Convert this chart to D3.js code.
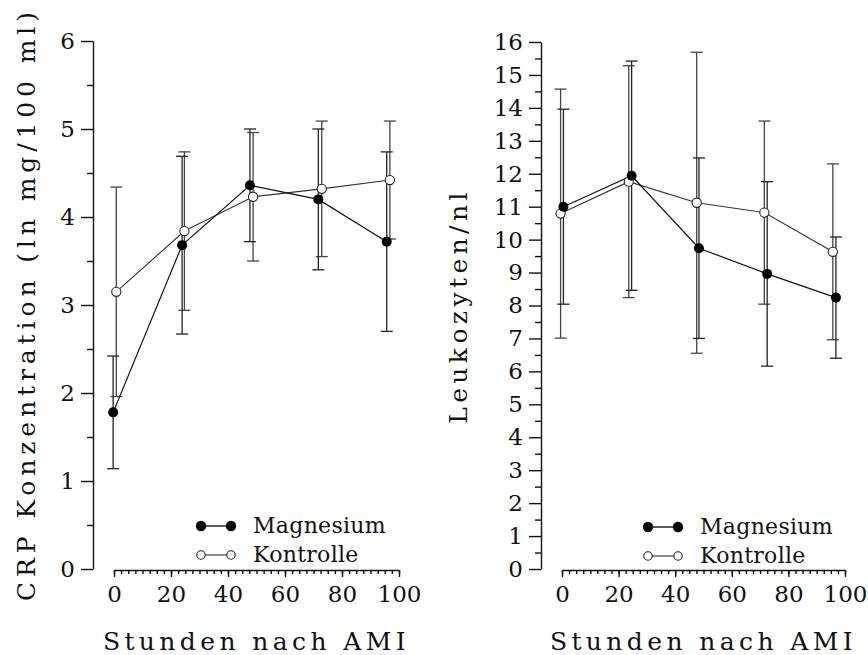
<!DOCTYPE html>
<html><head><meta charset="utf-8">
<script src="https://cdn.jsdelivr.net/npm/d3@7"></script>
<style>
html,body{margin:0;padding:0;background:#fff;}
svg text{font-family:"DejaVu Serif",serif;fill:#111;}
</style></head>
<body>
<svg id="chart" width="868" height="655"></svg>
<script>
// ---- data ----
const seriesNames = ["Magnesium", "Kontrolle"];
const xTicks = [0, 20, 40, 60, 80, 100];

// CRP panel (ln mg/100 ml)
const crpYTicks = [0, 1, 2, 3, 4, 5, 6];
const crpMgHours = [-0.3, 23.9, 47.7, 71.7, 95.7];
const crpMgMean  = [1.78, 3.68, 4.36, 4.20, 3.72];
const crpMgErr   = [0.64, 1.01, 0.64, 0.80, 1.02];
const crpKoHours = [0.8, 24.7, 48.8, 72.9, 96.8];
const crpKoMean  = [3.15, 3.84, 4.23, 4.32, 4.42];
const crpKoErr   = [1.19, 0.90, 0.73, 0.77, 0.67];

// Leukozyten panel (/nl)
const leuYTicks = [0,1,2,3,4,5,6,7,8,9,10,11,12,13,14,15,16];
const leuMgHours = [0.5, 24.6, 48.4, 72.5, 96.8];
const leuMgMean  = [11.00, 11.94, 9.74, 8.96, 8.24];
const leuMgErr   = [2.96, 3.48, 2.74, 2.80, 1.84];
const leuKoHours = [-0.5, 23.6, 47.6, 71.5, 95.7];
const leuKoMean  = [10.79, 11.76, 11.12, 10.82, 9.63];
const leuKoErr   = [3.78, 3.52, 4.57, 2.78, 2.67];

const svg = d3.select("#chart");

function zip(h, m, e){ return h.map((v,i)=>({h:v, m:m[i], e:e[i]})); }

function panel(cfg){
  const g = svg.append("g");
  const x = d3.scaleLinear().domain([0,100]).range([cfg.x0, cfg.x1]);
  const y = d3.scaleLinear().domain([0, cfg.yMax]).range([cfg.yBottom, cfg.yTop]);

  // y axis major
  const ya = g.append("g").attr("transform",`translate(${cfg.yAxisX},0)`)
    .call(d3.axisLeft(y).tickValues(cfg.yTicks).tickSize(12).tickSizeOuter(0).tickPadding(6).tickFormat(d3.format("d")));
  ya.selectAll("text").style("font-size","23px");
  // y minor
  const halves = d3.range(0.5, cfg.yMax, 1);
  g.append("g").attr("transform",`translate(${cfg.yAxisX},0)`)
    .call(d3.axisLeft(y).tickValues(halves).tickSize(6).tickSizeOuter(0).tickFormat(""))
    .select(".domain").remove();

  // x axis
  const xa = g.append("g").attr("transform",`translate(0,${cfg.xAxisY})`)
    .call(d3.axisBottom(x).tickValues(xTicks).tickSize(7).tickSizeOuter(0).tickPadding(9).tickFormat(d3.format("d")));
  xa.selectAll("text").style("font-size","23px");
  g.append("g").attr("transform",`translate(0,${cfg.xAxisY})`)
    .call(d3.axisBottom(x).tickValues(d3.range(0,100.01,2.5)).tickSize(4).tickSizeOuter(0).tickFormat(""))
    .select(".domain").remove();
  g.selectAll(".domain, .tick line").attr("stroke","#111").attr("stroke-width",1.4);

  // titles
  g.append("text").attr("x",(cfg.x0+cfg.x1)/2).attr("y",650).attr("text-anchor","middle")
    .style("font-size","25px").style("letter-spacing","4.4px").text("Stunden nach AMI");
  g.append("text").attr("transform",`translate(${cfg.yTitleX},${cfg.yTitleY}) rotate(-90)`)
    .attr("text-anchor","middle").style("font-size","25px").style("letter-spacing",cfg.yTitleSpacing).text(cfg.yTitle);

  const mg = zip(cfg.mgH, cfg.mgM, cfg.mgE);
  const ko = zip(cfg.koH, cfg.koM, cfg.koE);

  function errbars(data, col){
    const eb = g.append("g").attr("stroke",col).attr("stroke-width",1.3);
    data.forEach(d=>{
      eb.append("line").attr("x1",x(d.h)).attr("x2",x(d.h)).attr("y1",y(d.m-d.e)).attr("y2",y(d.m+d.e));
      [d.m-d.e, d.m+d.e].forEach(v=>{
        eb.append("line").attr("x1",x(d.h)-6).attr("x2",x(d.h)+6).attr("y1",y(v)).attr("y2",y(v));
      });
    });
  }
  errbars(ko, "#444");
  errbars(mg, "#222");

  const line = d3.line().x(d=>x(d.h)).y(d=>y(d.m));
  g.append("path").datum(ko).attr("d",line).attr("fill","none").attr("stroke","#333").attr("stroke-width",1.1);
  g.append("path").datum(mg).attr("d",line).attr("fill","none").attr("stroke","#111").attr("stroke-width",1.2);

  g.selectAll(".ko").data(ko).enter().append("circle").attr("cx",d=>x(d.h)).attr("cy",d=>y(d.m))
    .attr("r",4.6).attr("fill","#fff").attr("stroke","#222").attr("stroke-width",1.1);
  g.selectAll(".mg").data(mg).enter().append("circle").attr("cx",d=>x(d.h)).attr("cy",d=>y(d.m))
    .attr("r",5).attr("fill","#000");

  // legend
  const L = cfg.legend;
  const lg = g.append("g");
  lg.append("line").attr("x1",L.x).attr("x2",L.x+30).attr("y1",L.y).attr("y2",L.y).attr("stroke","#000").attr("stroke-width",1.3);
  [L.x, L.x+30].forEach(cx=>lg.append("circle").attr("cx",cx).attr("cy",L.y).attr("r",5.2).attr("fill","#000"));
  lg.append("text").attr("x",L.x+52).attr("y",L.y+7).style("font-size","22px").style("letter-spacing","0.3px").text(seriesNames[0]);
  lg.append("line").attr("x1",L.x).attr("x2",L.x+30).attr("y1",L.y+29).attr("y2",L.y+29).attr("stroke","#333").attr("stroke-width",1.1);
  [L.x, L.x+30].forEach(cx=>lg.append("circle").attr("cx",cx).attr("cy",L.y+29).attr("r",4.2).attr("fill","#fff").attr("stroke","#222").attr("stroke-width",1.1));
  lg.append("text").attr("x",L.x+52).attr("y",L.y+36).style("font-size","22px").style("letter-spacing","0.3px").text(seriesNames[1]);
}

panel({x0:114, x1:399, yAxisX:93, yTop:41, yBottom:569, xAxisY:570, yMax:6, yTicks:crpYTicks,
  yTitle:"CRP Konzentration (ln mg/100 ml)", yTitleX:35, yTitleY:304, yTitleSpacing:"4.9px",
  mgH:crpMgHours, mgM:crpMgMean, mgE:crpMgErr, koH:crpKoHours, koM:crpKoMean, koE:crpKoErr,
  legend:{x:201, y:526}});

panel({x0:562, x1:845, yAxisX:541, yTop:42, yBottom:569, xAxisY:570, yMax:16, yTicks:leuYTicks,
  yTitle:"Leukozyten/nl", yTitleX:467, yTitleY:306, yTitleSpacing:"4.4px",
  mgH:leuMgHours, mgM:leuMgMean, mgE:leuMgErr, koH:leuKoHours, koM:leuKoMean, koE:leuKoErr,
  legend:{x:648, y:527}});
</script>
</body></html>
